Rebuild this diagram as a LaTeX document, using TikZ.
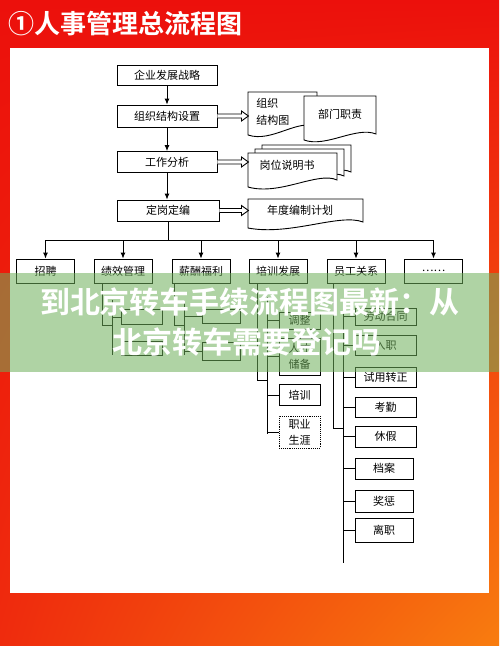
\documentclass[tikz,border=0pt]{standalone}
\usepackage{fontspec}
\setmainfont{Noto Sans CJK SC}[BoldFont={Noto Sans CJK SC Bold}]
\usetikzlibrary{arrows.meta,shadings}
\definecolor{bgred}{RGB}{236,16,12}
\definecolor{bgorange}{RGB}{248,125,15}
\definecolor{bannergreen}{RGB}{110,175,90}
% flecha hueca doble
\newcommand{\holarrow}[2]{\draw[line width=0.9pt, fill=white] (#1) ++(0,-2) -- ++(#2,0) -- ++(0,-3) -- ++(7,5) -- ++(-7,5) -- ++(0,-3) -- ++(-#2,0);}

\begin{document}
\begin{tikzpicture}[x=1pt, y=-1pt, >={Latex[length=6pt,width=5pt]}, line width=0.9pt,
  box/.style={draw, fill=white, font=\fontsize{11}{13}\selectfont, inner sep=0pt, minimum width=100pt, minimum height=21pt},
  col/.style={box, minimum width=58pt, minimum height=24pt},
  sub/.style={box, minimum width=41pt, minimum height=18pt},
  subw/.style={box, minimum width=61pt, minimum height=21pt}]
  \useasboundingbox (0,0) rectangle (499,646);
  % fondo
  \shade[upper left=bgred, upper right=bgred, lower left=bgred!75!bgorange, lower right=bgorange] (0,0) rectangle (499,646);
  \node[anchor=west, text=white, font=\fontsize{26}{26}\selectfont\bfseries, inner sep=0pt] (title) at (8,24) {①人事管理总流程图};
  \fill[white] (10,48) rectangle (489,593);
  % cadena principal
  \node[box, minimum height=20pt] (strat) at (167,75) {企业发展战略};
  \node[box, minimum height=22pt] (org) at (167,116) {组织结构设置};
  \node[box] (job) at (167,162) {工作分析};
  \node[box, minimum width=102pt] (post) at (168,210.5) {定岗定编};
  \draw[->] (strat) -- (org);
  \draw[->] (org) -- (job);
  \draw[->] (job.south) -- (job.south |- post.north);
  % documentos
  \draw[fill=white] (248,92) -- (317,92) -- (317,127) .. controls (298,118) and (272,143) .. (248,135) -- cycle;
  \node[anchor=west, align=left, font=\fontsize{11}{17}\selectfont, inner sep=0pt] (ocht) at (256,111.5) {组织\\结构图};
  \draw[fill=white] (304,96) -- (376,96) -- (376,134) .. controls (356,126) and (326,148) .. (304,140) -- cycle;
  \node[font=\fontsize{11}{13}\selectfont] (dept) at (340,114) {部门职责};
  \draw[fill=white] (262,145) -- (351,145) -- (351,172) .. controls (332,163) and (294,188) .. (262,179) -- cycle;
  \draw[fill=white] (255,149) -- (344,149) -- (344,176) .. controls (325,167) and (287,192) .. (255,183) -- cycle;
  \draw[fill=white] (248,153) -- (337,153) -- (337,180) .. controls (318,171) and (280,196) .. (248,187) -- cycle;
  \node[font=\fontsize{11}{13}\selectfont] (jd) at (287,165) {岗位说明书};
  \draw[fill=white] (248,199) -- (363,199) -- (363,222) .. controls (340,213) and (290,236) .. (248,228) -- cycle;
  \node[font=\fontsize{11}{13}\selectfont] (plan) at (300,210) {年度编制计划};
  \holarrow{org.east}{24}
  \holarrow{job.east}{24}
  \holarrow{post.east}{22}
  % reparto
  \coordinate (busl) at (45.5,240);
  \coordinate (busr) at (433.5,240);
  \draw (post.south) -- (post.south |- busl);
  \draw (busl) -- (busr);
  \node[col] (zp) at (45.5,271) {招聘};
  \node[col] (jx) at (123,271) {绩效管理};
  \node[col] (xc) at (201,271) {薪酬福利};
  \node[col] (px) at (278,271) {培训发展};
  \node[col] (yg) at (356,271) {员工关系};
  \node[col] (more) at (433.5,271) {……};
  \draw[->] (zp.north |- busl) -- (zp.north);
  \draw[->] (jx.north |- busl) -- (jx.north);
  \draw[->] (xc.north |- busl) -- (xc.north);
  \draw[->] (px.north |- busl) -- (px.north);
  \draw[->] (yg.north |- busl) -- (yg.north);
  \draw[->] (more.north |- busl) -- (more.north);
  %绩效管理
  \coordinate (j1) at (102,325);
  \coordinate (j2) at (112,300);
  \coordinate (j3) at (112,355);
  \draw (jx.south -| j1) -- (j1) -- (j1 -| j2);
  \draw (j2) -- (j3);
  \node[sub, minimum height=15pt] (jx1) at (142,317) {};
  \node[sub, minimum height=14pt] (jx2) at (142,348) {};
  \draw (jx1.west) -- (jx1.west -| j2);
  \draw (jx2.west) -- (jx2.west -| j2);
  % 薪酬福利
  \coordinate (x1) at (174,325);
  \coordinate (x2) at (184,300);
  \coordinate (x3) at (184,355);
  \draw (xc.south -| x1) -- (x1) -- (x1 -| x2);
  \draw (x2) -- (x3);
  \node[sub, minimum width=38pt, minimum height=14pt] (xc1) at (221,316) {};
  \node[sub, minimum width=38pt, minimum height=18pt] (xc2) at (221,351) {};
  \draw (xc1.west) -- (xc1.west -| x2);
  \draw (xc2.west) -- (xc2.west -| x2);
  % 培训发展
  \coordinate (p1) at (257,380);
  \coordinate (p2) at (267,297);
  \coordinate (p3) at (267,434);
  \draw (px.south -| p1) -- (p1) -- (p1 -| p2);
  \draw (p2) -- (p3);
  \node[sub, minimum height=17pt] (px1) at (299.5,320.5) {调整};
  \node[sub, minimum height=37pt, align=center, font=\fontsize{11}{16}\selectfont] (px2) at (299.5,356.5) {人才\\储备};
  \node[sub, minimum height=21pt] (px3) at (299.5,395) {培训};
  \node[sub, minimum height=32pt, densely dotted, align=center, font=\fontsize{11}{16}\selectfont] (px4) at (299.5,432) {职业\\生涯};
  \draw (px1.west) -- (px1.west -| p2);
  \draw (px2.west) -- (px2.west -| p2);
  \draw (px3.west) -- (px3.west -| p2);
  \draw (px4.west) -- (px4.west -| p2);
  % 员工关系
  \coordinate (y1) at (333,428);
  \coordinate (y2) at (343,300);
  \coordinate (y3) at (343,563);
  \draw (yg.south -| y1) -- (y1) -- (y1 -| y2);
  \draw (y2) -- (y3);
  \node[subw, minimum height=17pt] (yg1) at (385.5,316.5) {劳动合同};
  \node[subw, minimum height=20pt] (yg2) at (385.5,345) {入职};
  \node[subw, minimum height=20pt] (yg3) at (385.5,377) {试用转正};
  \node[subw, minimum height=20pt] (yg4) at (385.5,407) {考勤};
  \node[subw] (yg5) at (385.5,436.5) {休假};
  \node[subw, minimum width=58pt] (yg6) at (384,468.5) {档案};
  \node[subw, minimum width=58pt, minimum height=22pt] (yg7) at (384,501) {奖惩};
  \node[subw, minimum width=58pt, minimum height=24pt] (yg8) at (384,530) {离职};
  \draw (yg1.west) -- (yg1.west -| y2);
  \draw (yg2.west) -- (yg2.west -| y2);
  \draw (yg3.west) -- (yg3.west -| y2);
  \draw (yg4.west) -- (yg4.west -| y2);
  \draw (yg5.west) -- (yg5.west -| y2);
  \draw (yg6.west) -- (yg6.west -| y2);
  \draw (yg7.west) -- (yg7.west -| y2);
  \draw (yg8.west) -- (yg8.west -| y2);
  % franja
  \fill[bannergreen, fill opacity=0.55] (0,273) rectangle (499,372);
  \node[text=white, font=\fontsize{30}{30}\selectfont\bfseries, inner sep=0pt] (bt1) at (250,302) {到北京转车手续流程图最新：从};
  \node[text=white, font=\fontsize{30}{30}\selectfont\bfseries, inner sep=0pt] (bt2) at (247,342) {北京转车需要登记吗};
\end{tikzpicture}
\end{document}
